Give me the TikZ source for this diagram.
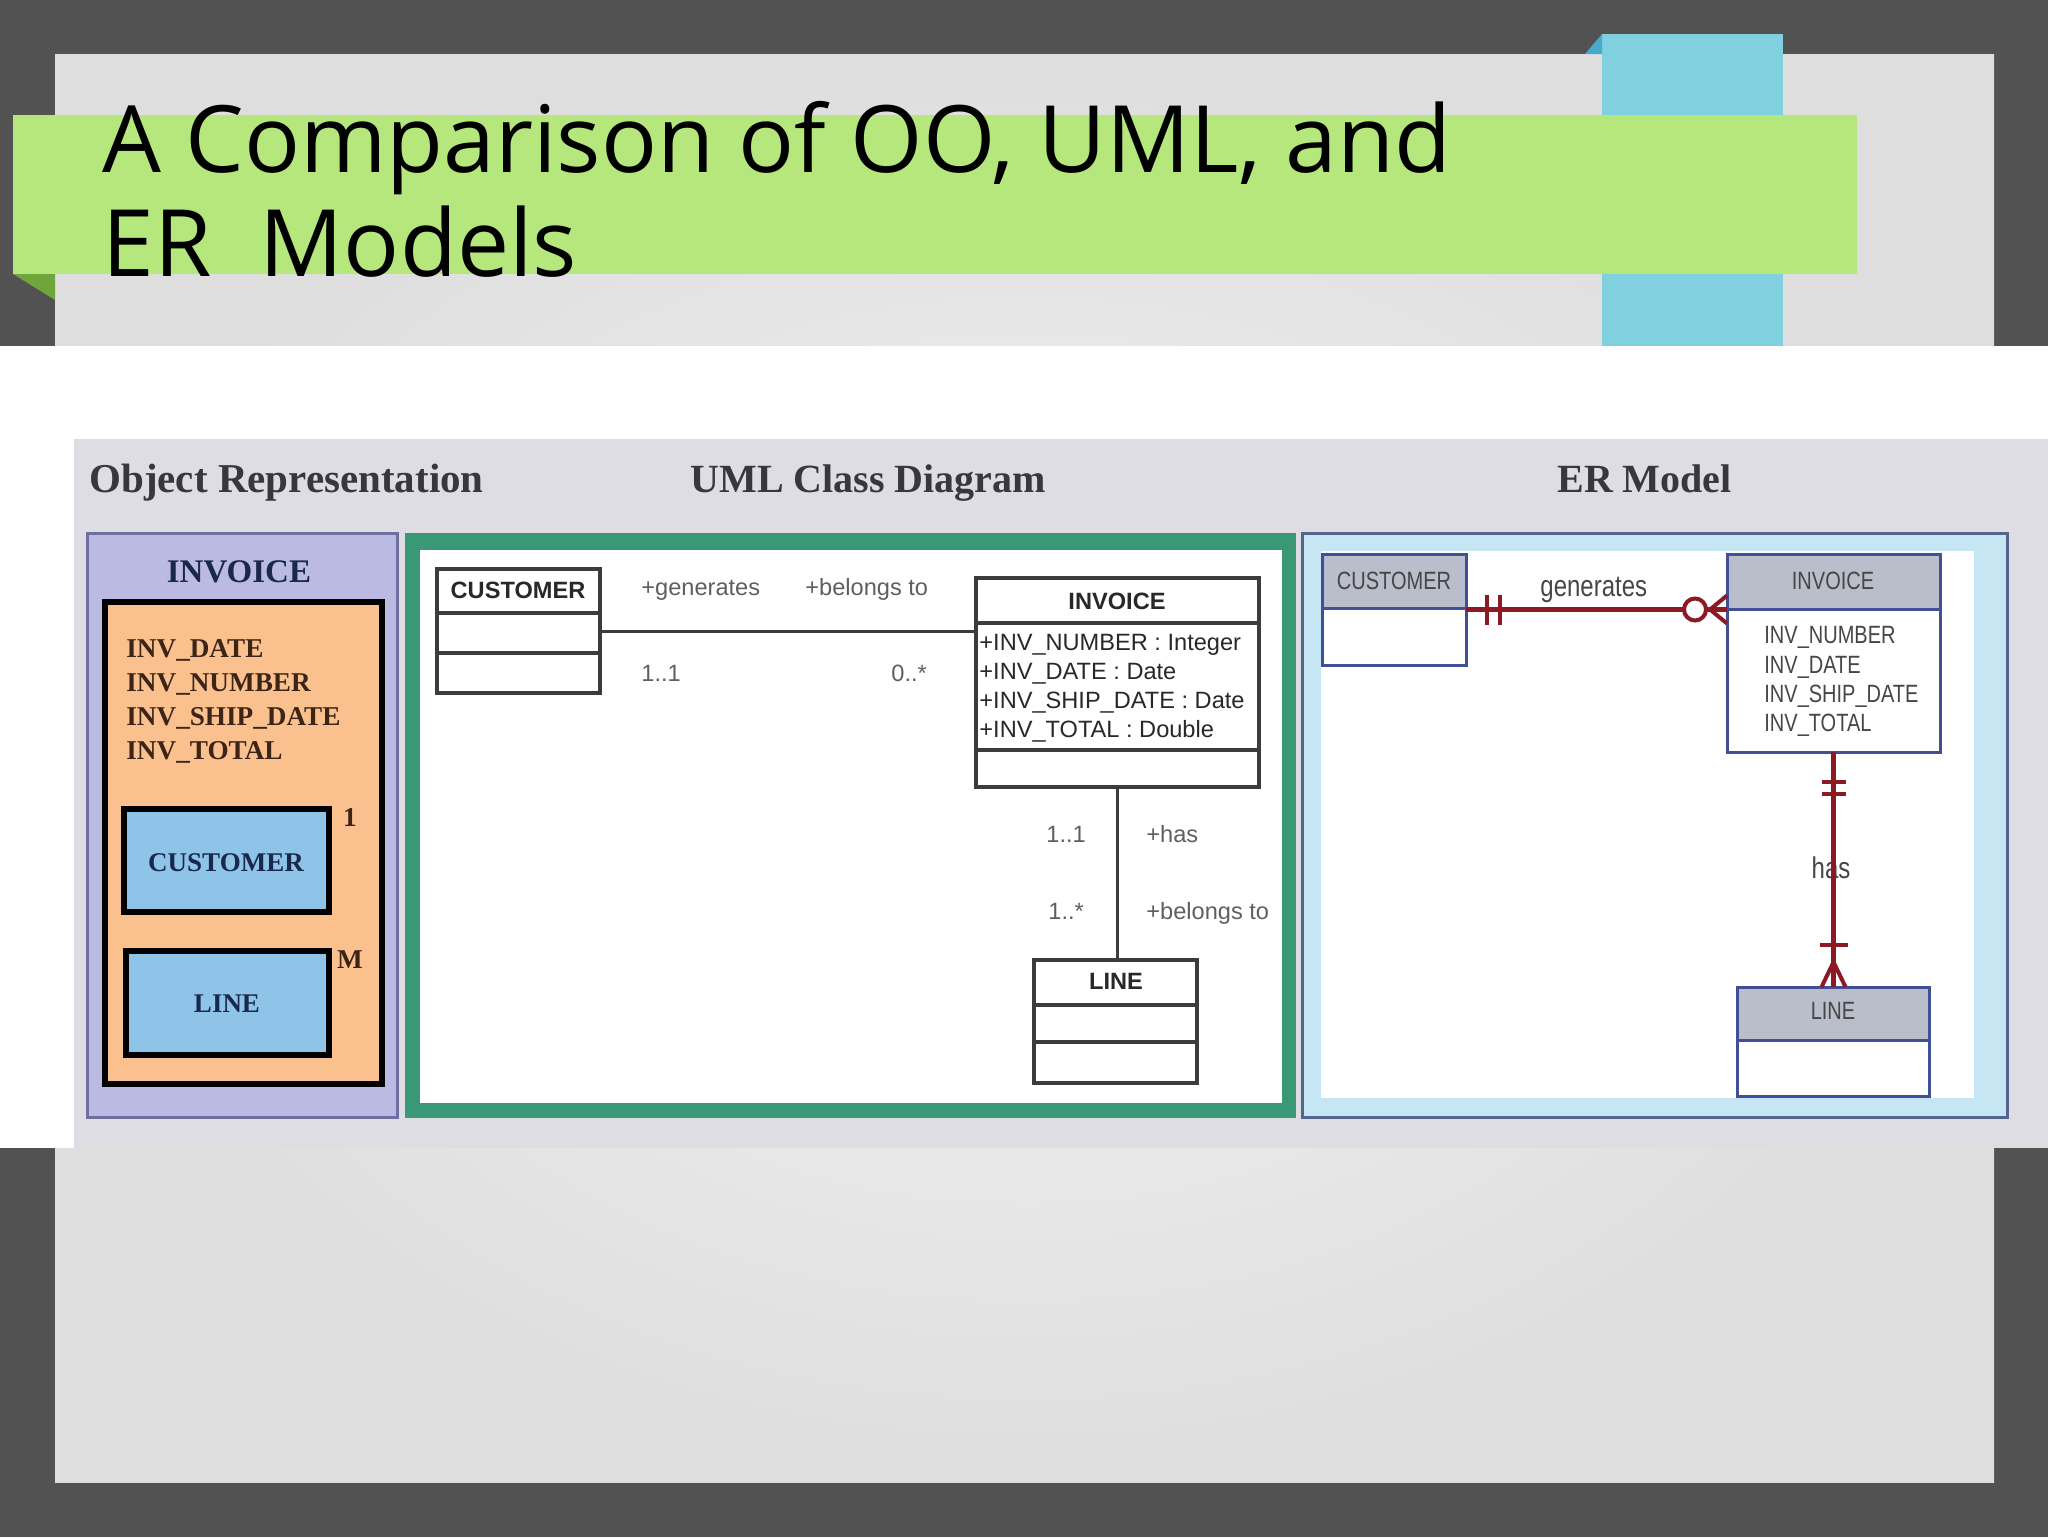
\documentclass[tikz,border=0pt]{standalone}
\usepackage{fontspec}
\setmainfont{Liberation Serif}
\newfontfamily\titlefont{Open Sans}
\newfontfamily\arialfont{Liberation Sans}
\newfontfamily\erfont[FakeStretch=0.8]{Liberation Sans}
\usetikzlibrary{calc,fit}
\definecolor{bgdark}{RGB}{82,82,82}
\definecolor{slidein}{RGB}{244,244,244}
\definecolor{slideout}{RGB}{222,222,222}
\definecolor{ribbon}{RGB}{128,208,224}
\definecolor{ribbonfold}{RGB}{70,170,200}
\definecolor{banner}{RGB}{181,231,125}
\definecolor{bannerfold}{RGB}{112,165,60}
\definecolor{imggray}{RGB}{221,221,227}
\definecolor{hdrtext}{RGB}{55,55,60}
\definecolor{lav}{RGB}{186,186,226}
\definecolor{lavline}{RGB}{110,110,160}
\definecolor{orng}{RGB}{250,193,143}
\definecolor{oblue}{RGB}{142,196,232}
\definecolor{navy}{RGB}{25,40,75}
\definecolor{brn}{RGB}{60,36,22}
\definecolor{umlgreen}{RGB}{58,152,118}
\definecolor{umlline}{RGB}{60,60,60}
\definecolor{umltext}{RGB}{40,40,40}
\definecolor{umllbl}{RGB}{95,95,95}
\definecolor{erfill}{RGB}{198,230,243}
\definecolor{erframe}{RGB}{85,100,140}
\definecolor{erent}{RGB}{65,80,150}
\definecolor{erhead}{RGB}{186,189,202}
\definecolor{erred}{RGB}{140,25,35}
\definecolor{ertext}{RGB}{70,70,70}
\tikzset{
  boxfit/.style={inner sep=0pt, outer sep=0pt},
  hdr/.style={font=\bfseries\fontsize{20}{24}\selectfont, text=hdrtext, anchor=base west, inner sep=0pt},
  objbox/.style={boxfit, draw=black, line width=3pt},
  objtitle/.style={font=\bfseries\fontsize{16.5}{20}\selectfont, text=navy, anchor=base, inner sep=0pt},
  objattr/.style={font=\bfseries\fontsize{13.6}{16}\selectfont, text=brn, anchor=base west, inner sep=0pt},
  objname/.style={font=\bfseries\fontsize{13.5}{16}\selectfont, text=navy, anchor=base, inner sep=0pt},
  umlcls/.style={boxfit, draw=umlline, line width=1.75pt, fill=white},
  umlname/.style={font=\arialfont\bfseries\fontsize{11.8}{14}\selectfont, text=umltext, anchor=base, inner sep=0pt},
  umlattr/.style={font=\arialfont\fontsize{11.8}{14}\selectfont, text=umltext, anchor=base west, inner sep=0pt},
  umllabel/.style={font=\arialfont\fontsize{11.8}{14}\selectfont, text=umllbl, anchor=base west, inner sep=0pt},
  umlconn/.style={draw=umlline, line width=1.5pt},
  erent/.style={boxfit, draw=erent, line width=1.5pt, fill=white},
  erhd/.style={fill=erhead, draw=erent, line width=1.5pt},
  ername/.style={font=\erfont\fontsize{12.5}{15}\selectfont, text=ertext, anchor=base, inner sep=0pt},
  erattr/.style={font=\erfont\fontsize{12.5}{15}\selectfont, text=ertext, anchor=base west, inner sep=0pt},
  errel/.style={font=\erfont\fontsize{15}{18}\selectfont, text=ertext, anchor=base, inner sep=0pt},
  erconn/.style={draw=erred, line width=2.5pt},
  ermark/.style={draw=erred, line width=2pt}
}
\begin{document}
\begin{tikzpicture}[x=0.5pt,y=-0.5pt]
\useasboundingbox (0,0) rectangle (2048,1537);
% background
\fill[bgdark] (0,0) rectangle (2048,1537);
\shade[inner color=slidein, outer color=slideout] (55,54) rectangle (1994,1482);
% ribbon
\fill[ribbon] (1602,34) rectangle (1783,346);
\fill[ribbonfold] (1585,54) -- (1602,34) -- (1602,54) -- cycle;
% banner
\fill[banner] (13,115) rectangle (1857,274);
\fill[bannerfold] (13,274) -- (55,274) -- (55,300) -- cycle;
\node[font=\titlefont\fontsize{46.5}{52}\selectfont, anchor=base west, inner sep=0pt] (title1) at (102,172) {A Comparison of OO, UML, and};
\node[font=\titlefont\fontsize{46.5}{52}\selectfont, anchor=base west, inner sep=0pt] (title2) at (102,276) {ER\ \ Models};
% pasted image area
\fill[white] (0,346) rectangle (2048,1148);
\fill[imggray] (74,439) rectangle (2048,1148);
\node[hdr, font=\bfseries\fontsize{20.5}{24}\selectfont] (h1) at (89,492) {Object Representation};
\node[hdr] (h2) at (690,492) {UML Class Diagram};
\node[hdr] (h3) at (1557,492) {ER Model};

% ---------- Object representation ----------
\node[boxfit, fit={(87,533) (397,1117)}, fill=lav, draw=lavline, line width=1.5pt] (opanel) {};
\node[objtitle] (oinvt) at (239,582) {INVOICE};
\node[objbox, fit={(105,602) (382,1084)}, fill=orng] (oinv) {};
\node[objattr] (oa1) at (126,657) {INV\_DATE};
\node[objattr] (oa2) at (126,691) {INV\_NUMBER};
\node[objattr] (oa3) at (126,725) {INV\_SHIP\_DATE};
\node[objattr] (oa4) at (126,759) {INV\_TOTAL};
\node[objbox, fit={(124,809) (329,912)}, fill=oblue] (ocust) {};
\node[objname] (ocustt) at (226,871) {CUSTOMER};
\node[objbox, fit={(126,951) (329,1055)}, fill=oblue] (oline) {};
\node[objname] (olinet) at (227,1012) {LINE};
\node[objattr, anchor=base] (om1) at (350,826) {1};
\node[objattr, anchor=base] (omM) at (350,968) {M};

% ---------- UML ----------
\fill[umlgreen] (405,533) rectangle (1296,1118);
\fill[white] (420,550) rectangle (1282,1103);
\node[umlcls, fit={(437,569) (600,693)}] (ucust) {};
\draw[umlline, line width=1.75pt] (ucust.west |- 0,613) -- (ucust.east |- 0,613);
\draw[umlline, line width=1.75pt] (ucust.west |- 0,653) -- (ucust.east |- 0,653);
\node[umlname] (ucustt) at (518,598) {CUSTOMER};
\node[umlcls, fit={(976,578) (1259,787)}] (uinv) {};
\draw[umlline, line width=1.75pt] (uinv.west |- 0,623) -- (uinv.east |- 0,623);
\draw[umlline, line width=1.75pt] (uinv.west |- 0,750) -- (uinv.east |- 0,750);
\node[umlname] (uinvt) at (1117,609) {INVOICE};
\node[umlattr] (ua1) at (979,650) {+INV\_NUMBER : Integer};
\node[umlattr] (ua2) at (979,679) {+INV\_DATE : Date};
\node[umlattr] (ua3) at (979,708) {+INV\_SHIP\_DATE : Date};
\node[umlattr] (ua4) at (979,737) {+INV\_TOTAL : Double};
\node[umlcls, fit={(1034,960) (1197,1083)}] (uline) {};
\draw[umlline, line width=1.75pt] (uline.west |- 0,1005) -- (uline.east |- 0,1005);
\draw[umlline, line width=1.75pt] (uline.west |- 0,1042) -- (uline.east |- 0,1042);
\node[umlname] (ulinet) at (1116,989) {LINE};
\draw[umlconn] (ucust.east) -- (ucust.east -| uinv.west);
\draw[umlconn] (uinv.south) -- (uinv.south |- uline.north);
\node[umllabel] (l1) at (641,595) {+generates};
\node[umllabel] (l2) at (805,595) {+belongs to};
\node[umllabel] (l3) at (641,681) {1..1};
\node[umllabel] (l4) at (891,681) {0..*};
\node[umllabel] (l5) at (1046,842) {1..1};
\node[umllabel] (l6) at (1146,842) {+has};
\node[umllabel] (l7) at (1048,919) {1..*};
\node[umllabel] (l8) at (1146,919) {+belongs to};

% ---------- ER ----------
\fill[erfill] (1302,533) rectangle (2007,1117);
\draw[erframe, line width=1.5pt] (1302,533) rectangle (2007,1117);
\fill[white] (1321,551) rectangle (1974,1098);
\node[erent, fit={(1322,554) (1466,665)}] (ecust) {};
\draw[erhd] (1322,554) rectangle (1466,608);
\node[ername] (ecustt) at (1394,589) {CUSTOMER};
\node[erent, fit={(1727,554) (1940,752)}] (einv) {};
\draw[erhd] (1727,554) rectangle (1940,609);
\node[ername] (einvt) at (1833,589) {INVOICE};
\node[erattr] (ea1) at (1764,643) {INV\_NUMBER};
\node[erattr] (ea2) at (1764,673) {INV\_DATE};
\node[erattr] (ea3) at (1764,702) {INV\_SHIP\_DATE};
\node[erattr] (ea4) at (1764,731) {INV\_TOTAL};
\node[erent, fit={(1737,987) (1929,1096)}] (eline) {};
\draw[erhd] (1737,987) rectangle (1929,1040);
\node[ername] (elinet) at (1833,1019) {LINE};
% generates relationship
\node[errel, anchor=base west] (egen) at (1540,596) {generates};
\coordinate (gEnd) at (ecust.east -| einv.west);
\draw[erconn] (ecust.east) -- (gEnd);
\draw[ermark] ($(ecust.east)+(21,-15)$) -- ($(ecust.east)+(21,15)$);
\draw[ermark] ($(ecust.east)+(34,-15)$) -- ($(ecust.east)+(34,15)$);
\draw[ermark, fill=white] ($(gEnd)+(-32,0)$) circle[radius=5.5pt];
\draw[ermark] ($(gEnd)+(-17,0)$) -- ($(gEnd)+(0,-14)$);
\draw[ermark] ($(gEnd)+(-17,0)$) -- ($(gEnd)+(0,14)$);
% has relationship
\node[errel] (ehas) at (1831,878) {has};
\coordinate (hEnd) at (einv.south |- eline.north);
\draw[erconn] (einv.south) -- (hEnd);
\draw[ermark] ($(einv.south)+(-12,30)$) -- ($(einv.south)+(12,30)$);
\draw[ermark] ($(einv.south)+(-12,42)$) -- ($(einv.south)+(12,42)$);
\draw[ermark] ($(hEnd)+(-14,-42)$) -- ($(hEnd)+(14,-42)$);
\draw[ermark] ($(hEnd)+(0,-25)$) -- ($(hEnd)+(-12,0)$);
\draw[ermark] ($(hEnd)+(0,-25)$) -- ($(hEnd)+(12,0)$);
\end{tikzpicture}
\end{document}
